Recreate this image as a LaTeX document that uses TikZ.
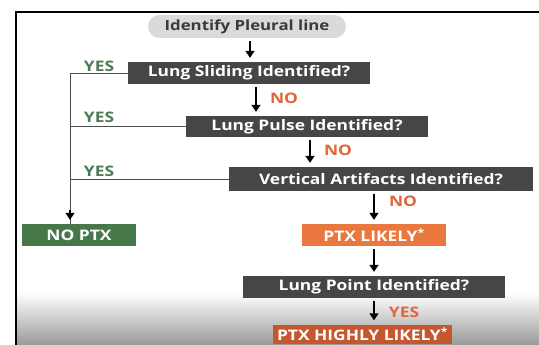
\documentclass[tikz,border=0pt]{standalone}
\usepackage{fontspec}
\setmainfont{Open Sans}[FakeStretch=1.2]
\usetikzlibrary{arrows.meta,calc}
\definecolor{boxgray}{HTML}{464646}
\definecolor{pillgray}{HTML}{DADADA}
\definecolor{pilltext}{HTML}{3A3A3A}
\definecolor{yesgreen}{HTML}{4C7A52}
\definecolor{boxgreen}{HTML}{47784A}
\definecolor{noorange}{HTML}{E0653A}
\definecolor{boxorange}{HTML}{EA773D}
\definecolor{boxrust}{HTML}{C5572F}
\tikzset{
  boxfont/.style={font=\fontsize{14.5}{16}\selectfont\bfseries},
  darkbox/.style={boxfont, fill=boxgray, text=white, inner sep=0pt, anchor=center},
  arr/.style={line width=1.4pt, -{Triangle[width=9pt,length=7pt]}, shorten <=3pt, shorten >=4pt},
  yesline/.style={draw=black!70, line width=0.8pt},
  yeslab/.style={font=\fontsize{14.5}{16}\selectfont\bfseries, text=yesgreen},
  nolab/.style={font=\fontsize{14.5}{16}\selectfont\bfseries, text=noorange},
}
\begin{document}
\begin{tikzpicture}[x=1pt,y=-1pt]
\useasboundingbox (0,0) rectangle (539,345);
\fill[white] (0,0) rectangle (539,345);
% bottom gradient
\shade[top color=white, bottom color=black!40] (16,293) rectangle (539,345);
% frame
\draw[line width=2pt] (15.5,345) -- (15.5,12.5) -- (539,12.5);

% nodes
\node[font=\fontsize{14}{16}\selectfont\bfseries, fill=pillgray, text=pilltext, rounded corners=11.5pt, minimum width=198pt, minimum height=23pt, inner sep=0pt] (pill) at (247,26.5) {Identify Pleural line};
\node[darkbox, minimum width=242pt, minimum height=22pt] (sliding) at (249,73) {Lung Sliding Identified?};
\node[darkbox, minimum width=242pt, minimum height=21pt] (pulse) at (307,126.5) {Lung Pulse Identified?};
\node[darkbox, minimum width=304pt, minimum height=24pt] (vert) at (381,179) {Vertical Artifacts Identified?};
\node[darkbox, fill=boxgreen, minimum width=114pt, minimum height=22pt] (noptx) at (79,235) {NO PTX};
\node[darkbox, fill=boxorange, minimum width=144pt, minimum height=22pt] (likely) at (374,235) {PTX LIKELY\textsuperscript{*}};
\node[darkbox, minimum width=262pt, minimum height=22pt] (point) at (374,287) {Lung Point Identified?};
\node[darkbox, fill=boxrust, minimum width=179pt, minimum height=19pt] (high) at (362.5,334) {PTX HIGHLY LIKELY\textsuperscript{*}};

% main arrows
\draw[arr] ([xshift=3pt]pill.south) -- ([xshift=3pt]pill.south |- sliding.north);
\draw[arr] ([xshift=7pt]sliding.south) -- ([xshift=7pt]sliding.south |- pulse.north);
\draw[arr] ([xshift=3pt]pulse.south) -- ([xshift=3pt]pulse.south |- vert.north);
\draw[arr] (likely.north |- vert.south) -- (likely.north);
\draw[arr] (likely.south) -- (likely.south |- point.north);
\draw[arr] (point.south) -- (point.south |- high.north);

% YES branches
\coordinate (trunk) at ([xshift=-9pt]noptx.north);
\draw[yesline] (sliding.west) -| (trunk);
\draw[line width=1.2pt, -{Triangle[width=9pt,length=7pt]}, shorten >=4pt] ([yshift=14pt]trunk) -- (trunk);
\draw[yesline] (pulse.west) -- (pulse.west -| trunk);
\draw[yesline] (vert.west) -- (vert.west -| trunk);

% labels
\node[yeslab] (y1) at (99,66) {YES};
\node[yeslab] (y2) at (99,117) {YES};
\node[yeslab] (y3) at (99,171) {YES};
\node[nolab] (n1) at (284,98) {NO};
\node[nolab] (n2) at (338,150) {NO};
\node[nolab] (n3) at (403,201) {NO};
\node[nolab] (y4) at (404,312) {YES};
\end{tikzpicture}
\end{document}
